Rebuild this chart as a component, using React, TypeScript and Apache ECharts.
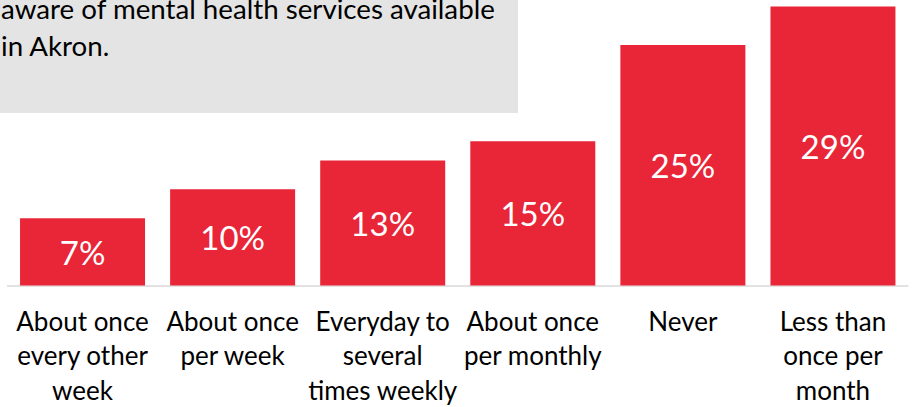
import React, { useEffect, useRef } from "react";
import * as echarts from "echarts";

const categories = [
  "About once\nevery other\nweek",
  "About once\nper week",
  "Everyday to\nseveral\ntimes weekly",
  "About once\nper monthly",
  "Never",
  "Less than\nonce per\nmonth",
];
const values = [7, 10, 13, 15, 25, 29];
const noteLines = ["aware of mental health services available", "in Akron."];

const FONT = "Lato, 'Noto Sans', sans-serif";
const RED = "#E92538";

export default function App() {
  const ref = useRef<HTMLDivElement>(null);
  useEffect(() => {
    if (!ref.current) return;
    const chart = echarts.init(ref.current, undefined, { renderer: "svg" });
    chart.setOption({
      animation: false,
      backgroundColor: "#ffffff",
      grid: { left: 7.5, right: 5, top: 6.5, bottom: 119.5, containLabel: false },
      xAxis: {
        type: "category",
        data: categories,
        axisLine: { show: true, lineStyle: { color: "#D9D9D9", width: 1.5 } },
        axisTick: { show: false },
        axisLabel: {
          interval: 0,
          color: "#000000",
          fontFamily: FONT,
          fontSize: 26,
          lineHeight: 34.5,
          margin: 18,
        },
      },
      yAxis: {
        type: "value",
        min: 0,
        max: 29,
        show: false,
        splitLine: { show: false },
      },
      series: [
        {
          type: "bar",
          data: values,
          barWidth: 125,
          itemStyle: { color: RED },
          label: {
            show: true,
            position: "inside",
            formatter: "{c}%",
            color: "#ffffff",
            fontFamily: FONT,
            fontSize: 33,
          },
        },
      ],
      graphic: [
        {
          type: "rect",
          shape: { x: 0, y: 0, width: 518, height: 113 },
          style: { fill: "#E4E4E4" },
          z: 0,
        },
        {
          type: "text",
          x: 1,
          y: 8.5,
          style: {
            text: noteLines[0],
            fill: "#000000",
            font: `27.7px ${FONT}`,
            textAlign: "left",
            textVerticalAlign: "middle",
          },
        },
        {
          type: "text",
          x: 1,
          y: 45,
          style: {
            text: noteLines[1],
            fill: "#000000",
            font: `27.7px ${FONT}`,
            textAlign: "left",
            textVerticalAlign: "middle",
          },
        },
      ],
    });
    return () => chart.dispose();
  }, []);
  return (
    <div
      ref={ref}
      style={{ position: "fixed", left: 0, top: 0, width: 913, height: 407 }}
    />
  );
}
